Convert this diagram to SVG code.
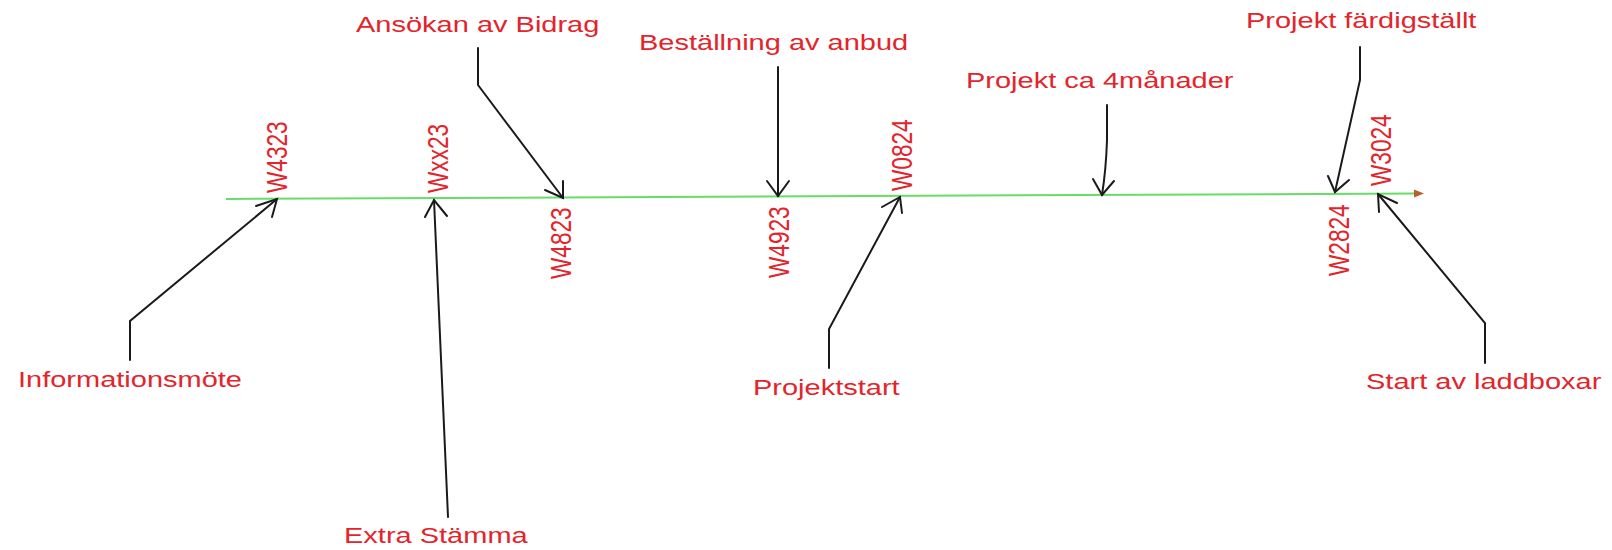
<svg xmlns="http://www.w3.org/2000/svg" width="1612" height="550" viewBox="0 0 1612 550">
<style>
text{font-family:"Liberation Sans",Arial,Helvetica,sans-serif;font-size:29px;fill:#e3242b}
.c{fill:none;stroke:#1a1a1a;stroke-width:2;stroke-linejoin:miter;stroke-linecap:round}
.tl{fill:none;stroke:#66dd66;stroke-width:2}
</style>
<rect width="1612" height="550" fill="#ffffff"/>
<g id="timeline">
<line class="tl" x1="226" y1="199" x2="1416" y2="193.5"/>
<polygon points="1414,189.5 1424,193.5 1414,197.5" fill="#b8612b"/>
</g>
<g id="week-labels">
<g id="w4323"><text transform="translate(287,193) scale(1,0.78) rotate(-90)">W4323</text></g>
<g id="wxx23"><text transform="translate(448,193) scale(1,0.78) rotate(-90)">Wxx23</text></g>
<g id="w4823"><text transform="translate(571,279) scale(1,0.78) rotate(-90)">W4823</text></g>
<g id="w4923"><text transform="translate(789,278) scale(1,0.78) rotate(-90)">W4923</text></g>
<g id="w0824"><text transform="translate(912,191) scale(1,0.78) rotate(-90)">W0824</text></g>
<g id="w2824"><text transform="translate(1349,276) scale(1,0.78) rotate(-90)">W2824</text></g>
<g id="w3024"><text transform="translate(1391,186) scale(1,0.78) rotate(-90)">W3024</text></g>
</g>
<g id="informationsmote"><text transform="translate(18,387) scale(1,0.78)">Informationsmöte</text></g>
<g id="extra-stamma"><text transform="translate(344,543) scale(1,0.78)">Extra Stämma</text></g>
<g id="ansokan"><text transform="translate(356,32) scale(1,0.78)">Ansökan av Bidrag</text></g>
<g id="bestallning"><text transform="translate(639,50) scale(1,0.78)">Beställning av anbud</text></g>
<g id="projektstart"><text transform="translate(753,395) scale(1,0.78)">Projektstart</text></g>
<g id="projekt-4man"><text transform="translate(966,88) scale(1,0.78)">Projekt ca 4månader</text></g>
<g id="projekt-fardig"><text transform="translate(1246,28) scale(1,0.78)">Projekt färdigställt</text></g>
<g id="start-laddboxar"><text transform="translate(1366,389) scale(1,0.78)">Start av laddboxar</text></g>
<g id="connectors">
<polyline class="c" points="130,360 130,321 277,199"/>
<polyline class="c" points="256,206 277,199 272,217"/>
<polyline class="c" points="448,517 434,200"/>
<polyline class="c" points="425,217 434,200 447,216"/>
<polyline class="c" points="478,48 478,85 563,198"/>
<polyline class="c" points="545,190 563,198 563,181"/>
<polyline class="c" points="778,67 778,196"/>
<polyline class="c" points="767,181 778,196 789,181"/>
<polyline class="c" points="829,368 829,329 900,197"/>
<polyline class="c" points="882,207 900,197 902,213"/>
<path class="c" d="M1107,105 L1107,140 Q1106,170 1102,195"/>
<polyline class="c" points="1093,179 1102,195 1114,181"/>
<polyline class="c" points="1360,47 1360,80 1335,192"/>
<polyline class="c" points="1328,176 1335,192 1349,180"/>
<polyline class="c" points="1485,363 1485,323 1378,194"/>
<polyline class="c" points="1397,203 1378,194 1379,212"/>
</g>
</svg>
